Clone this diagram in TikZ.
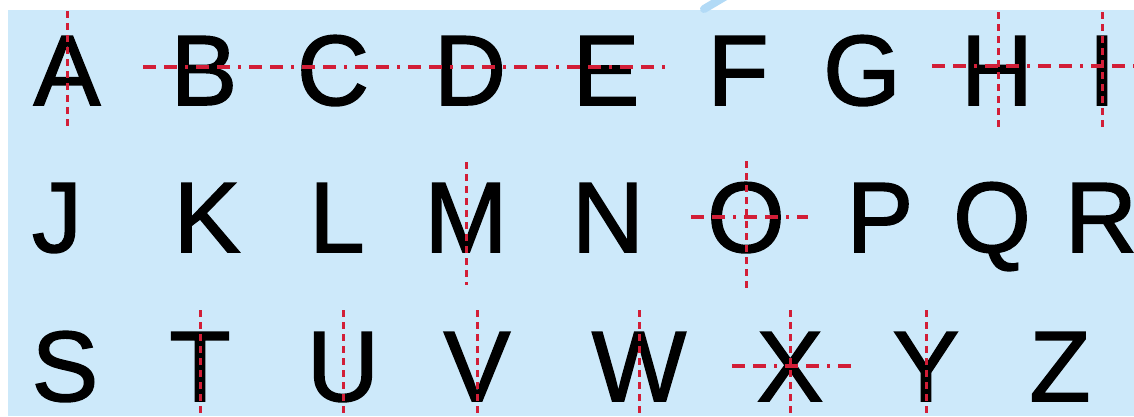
\documentclass[tikz,border=0pt]{standalone}
\usepackage{fontspec}
\setmainfont{Liberation Sans}
\newfontfamily\letterfont[FakeBold=1.5]{Liberation Sans}
\definecolor{bgblue}{RGB}{205,233,250}
\definecolor{axred}{RGB}{210,30,55}
\definecolor{blobblue}{RGB}{178,218,246}
\begin{document}
\begin{tikzpicture}[x=1pt,y=-1pt,
  letter/.style={anchor=base, inner sep=0pt, font=\letterfont\fontsize{100}{100}\selectfont},
  vaxis/.style={draw=axred, line width=3pt, dash pattern=on 7pt off 5pt},
  haxis/.style={draw=axred, line width=3.5pt, dash pattern=on 13pt off 8pt on 13pt off 8pt on 3pt off 8pt}]
\useasboundingbox (0,0) rectangle (1134,416);
\fill[white] (0,0) rectangle (1134,416);
\fill[bgblue] (8,10) rectangle (1134,416);
\draw[blobblue, line width=8pt, line cap=round] (704,9) -- (726,-4);
% row 1
\node[letter] (A) at (67,105) {A};
\node[letter] (B) at (204,105) {B};
\node[letter] (C) at (333,105) {C};
\node[letter] (D) at (470,105) {D};
\node[letter] (E) at (606,105) {E};
\node[letter] (F) at (738,105) {F};
\node[letter] (G) at (862,105) {G};
\node[letter] (H) at (997,105) {H};
\node[letter] (I) at (1102,105) {I};
% row 2
\node[letter] (J) at (57,252) {J};
\node[letter] (K) at (207,252) {K};
\node[letter] (L) at (337,252) {L};
\node[letter] (M) at (466,252) {M};
\node[letter] (N) at (608,252) {N};
\node[letter] (O) at (746,252) {O};
\node[letter] (P) at (880,252) {P};
\node[letter] (Q) at (992,252) {Q};
\node[letter] (R) at (1101,252) {R};
% row 3
\node[letter] (S) at (65,401) {S};
\node[letter] (T) at (200,401) {T};
\node[letter] (U) at (343,401) {U};
\node[letter] (V) at (477,401) {V};
\node[letter] (W) at (639,401) {W};
\node[letter] (X) at (790,401) {X};
\node[letter] (Y) at (926,401) {Y};
\node[letter] (Z) at (1060,401) {Z};
% axes
\draw[vaxis] (A |- 0,11) -- (A |- 0,128);
\draw[haxis] (143,67) -- (665,67);
\draw[haxis] (932,66) -- (1134,66);
\draw[vaxis] (998,12) -- (998,128);
\draw[vaxis] (I |- 0,12) -- (I |- 0,128);
\draw[vaxis] (M |- 0,162) -- (M |- 0,285);
\draw[vaxis] (O |- 0,161) -- (O |- 0,288);
\draw[haxis] (691,217) -- (808,217);
\draw[vaxis] (T |- 0,310) -- (T |- 0,416);
\draw[vaxis] (U |- 0,310) -- (U |- 0,416);
\draw[vaxis] (V |- 0,310) -- (V |- 0,416);
\draw[vaxis] (W |- 0,310) -- (W |- 0,416);
\draw[vaxis] (X |- 0,310) -- (X |- 0,416);
\draw[haxis] (732,366) -- (851,366);
\draw[vaxis] (Y |- 0,310) -- (Y |- 0,416);
\end{tikzpicture}
\end{document}
